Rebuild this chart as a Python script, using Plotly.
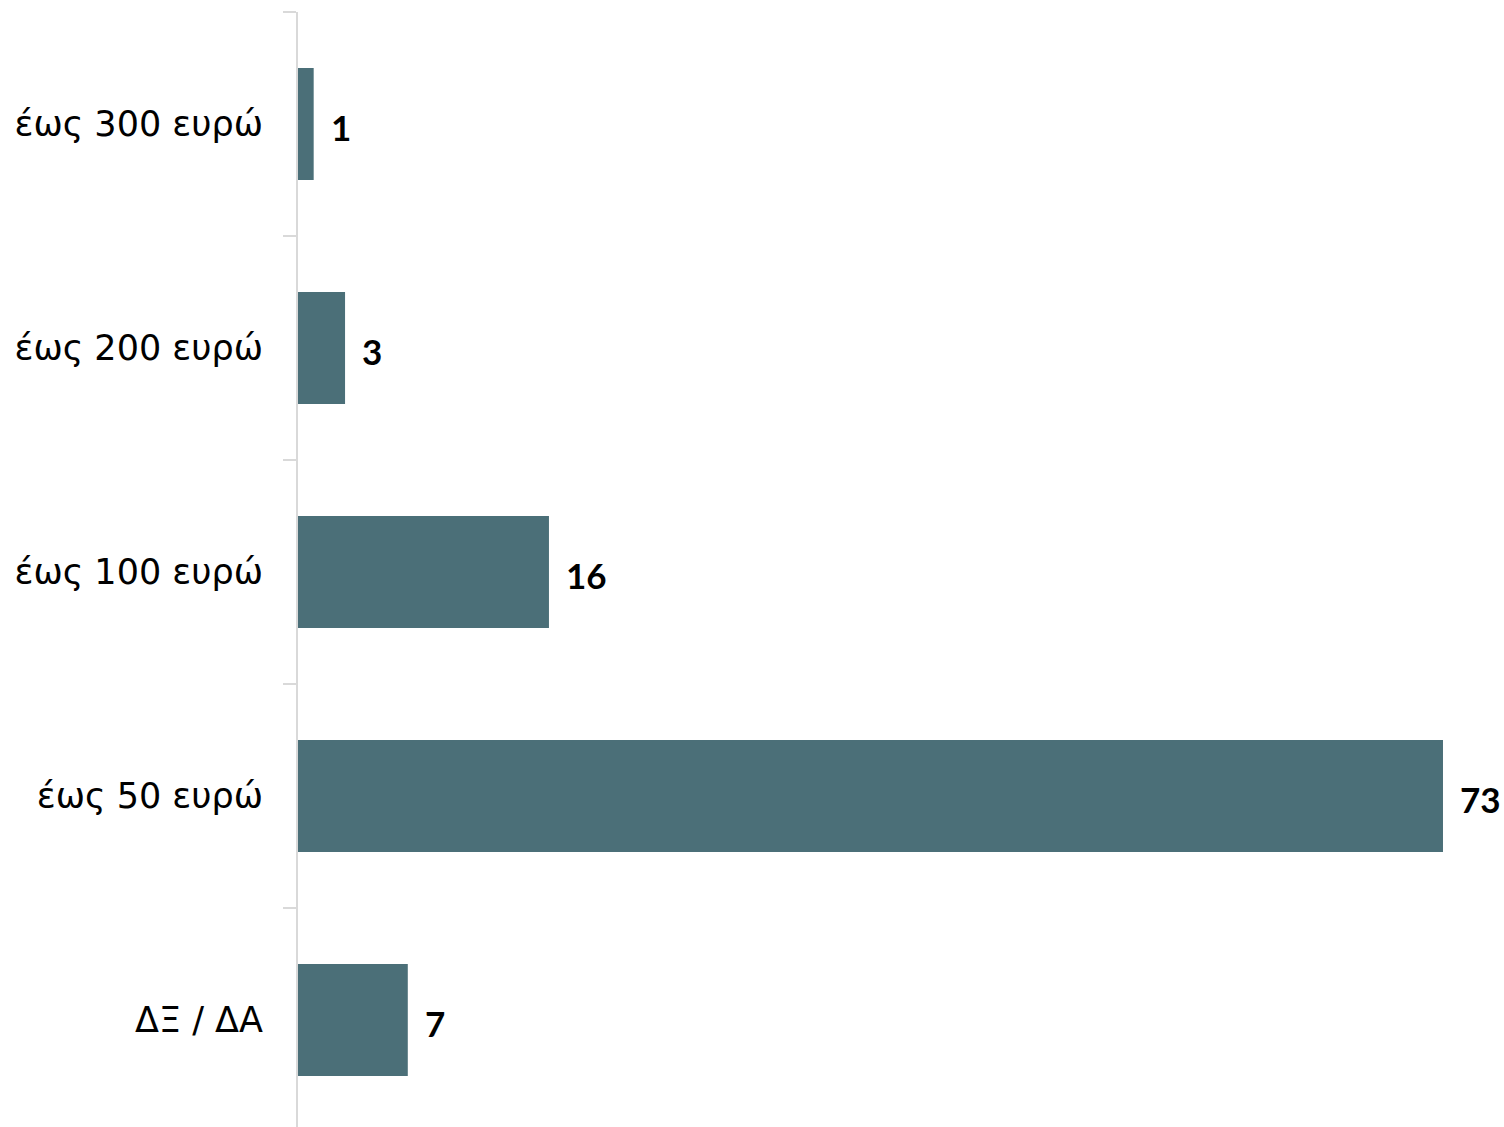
import plotly.graph_objects as go

categories = ["ΔΞ / ΔΑ", "έως 50 ευρώ", "έως 100 ευρώ", "έως 200 ευρώ", "έως 300 ευρώ"]
values = [7, 73, 16, 3, 1]
labels = ["7", "73", "16", "3", "1"]

BAR = "#4b6f78"
FONT = "DejaVu Sans"
LABEL_FONT = "Lato"

fig = go.Figure(go.Bar(
    y=categories, x=values, orientation="h",
    marker=dict(color=BAR, line=dict(width=0)),
    hoverinfo="skip",
))

for c, v, t in zip(categories, values, labels):
    fig.add_annotation(x=v, y=c, text="<b>%s</b>" % t, showarrow=False,
                       xanchor="left", yanchor="middle", xshift=15, yshift=-3,
                       font=dict(family=LABEL_FONT, size=35, color="#000000"))

fig.update_layout(
    width=1504, height=1127,
    margin=dict(l=298, r=0, t=12, b=0),
    paper_bgcolor="white", plot_bgcolor="white",
    bargap=0.5, showlegend=False,
    font=dict(family=FONT, size=35, color="#000000"),
)
fig.update_xaxes(range=[0, 76.89], visible=False, showgrid=False, zeroline=False)
fig.update_yaxes(
    type="category", categoryorder="array", categoryarray=categories,
    range=[-0.478, 4.5], tickson="boundaries",
    ticks="outside", ticklen=13, tickwidth=1.5, tickcolor="#d9d9d9",
    showline=True, linecolor="#d9d9d9", linewidth=2,
    showgrid=False, zeroline=False, ticklabelstandoff=26,
    tickfont=dict(family=FONT, size=35, color="#000000"),
)

fig.write_html(
    "out.html",
    config={"displayModeBar": False},
    post_script="document.body.style.margin='0';document.body.style.overflow='hidden';",
)
